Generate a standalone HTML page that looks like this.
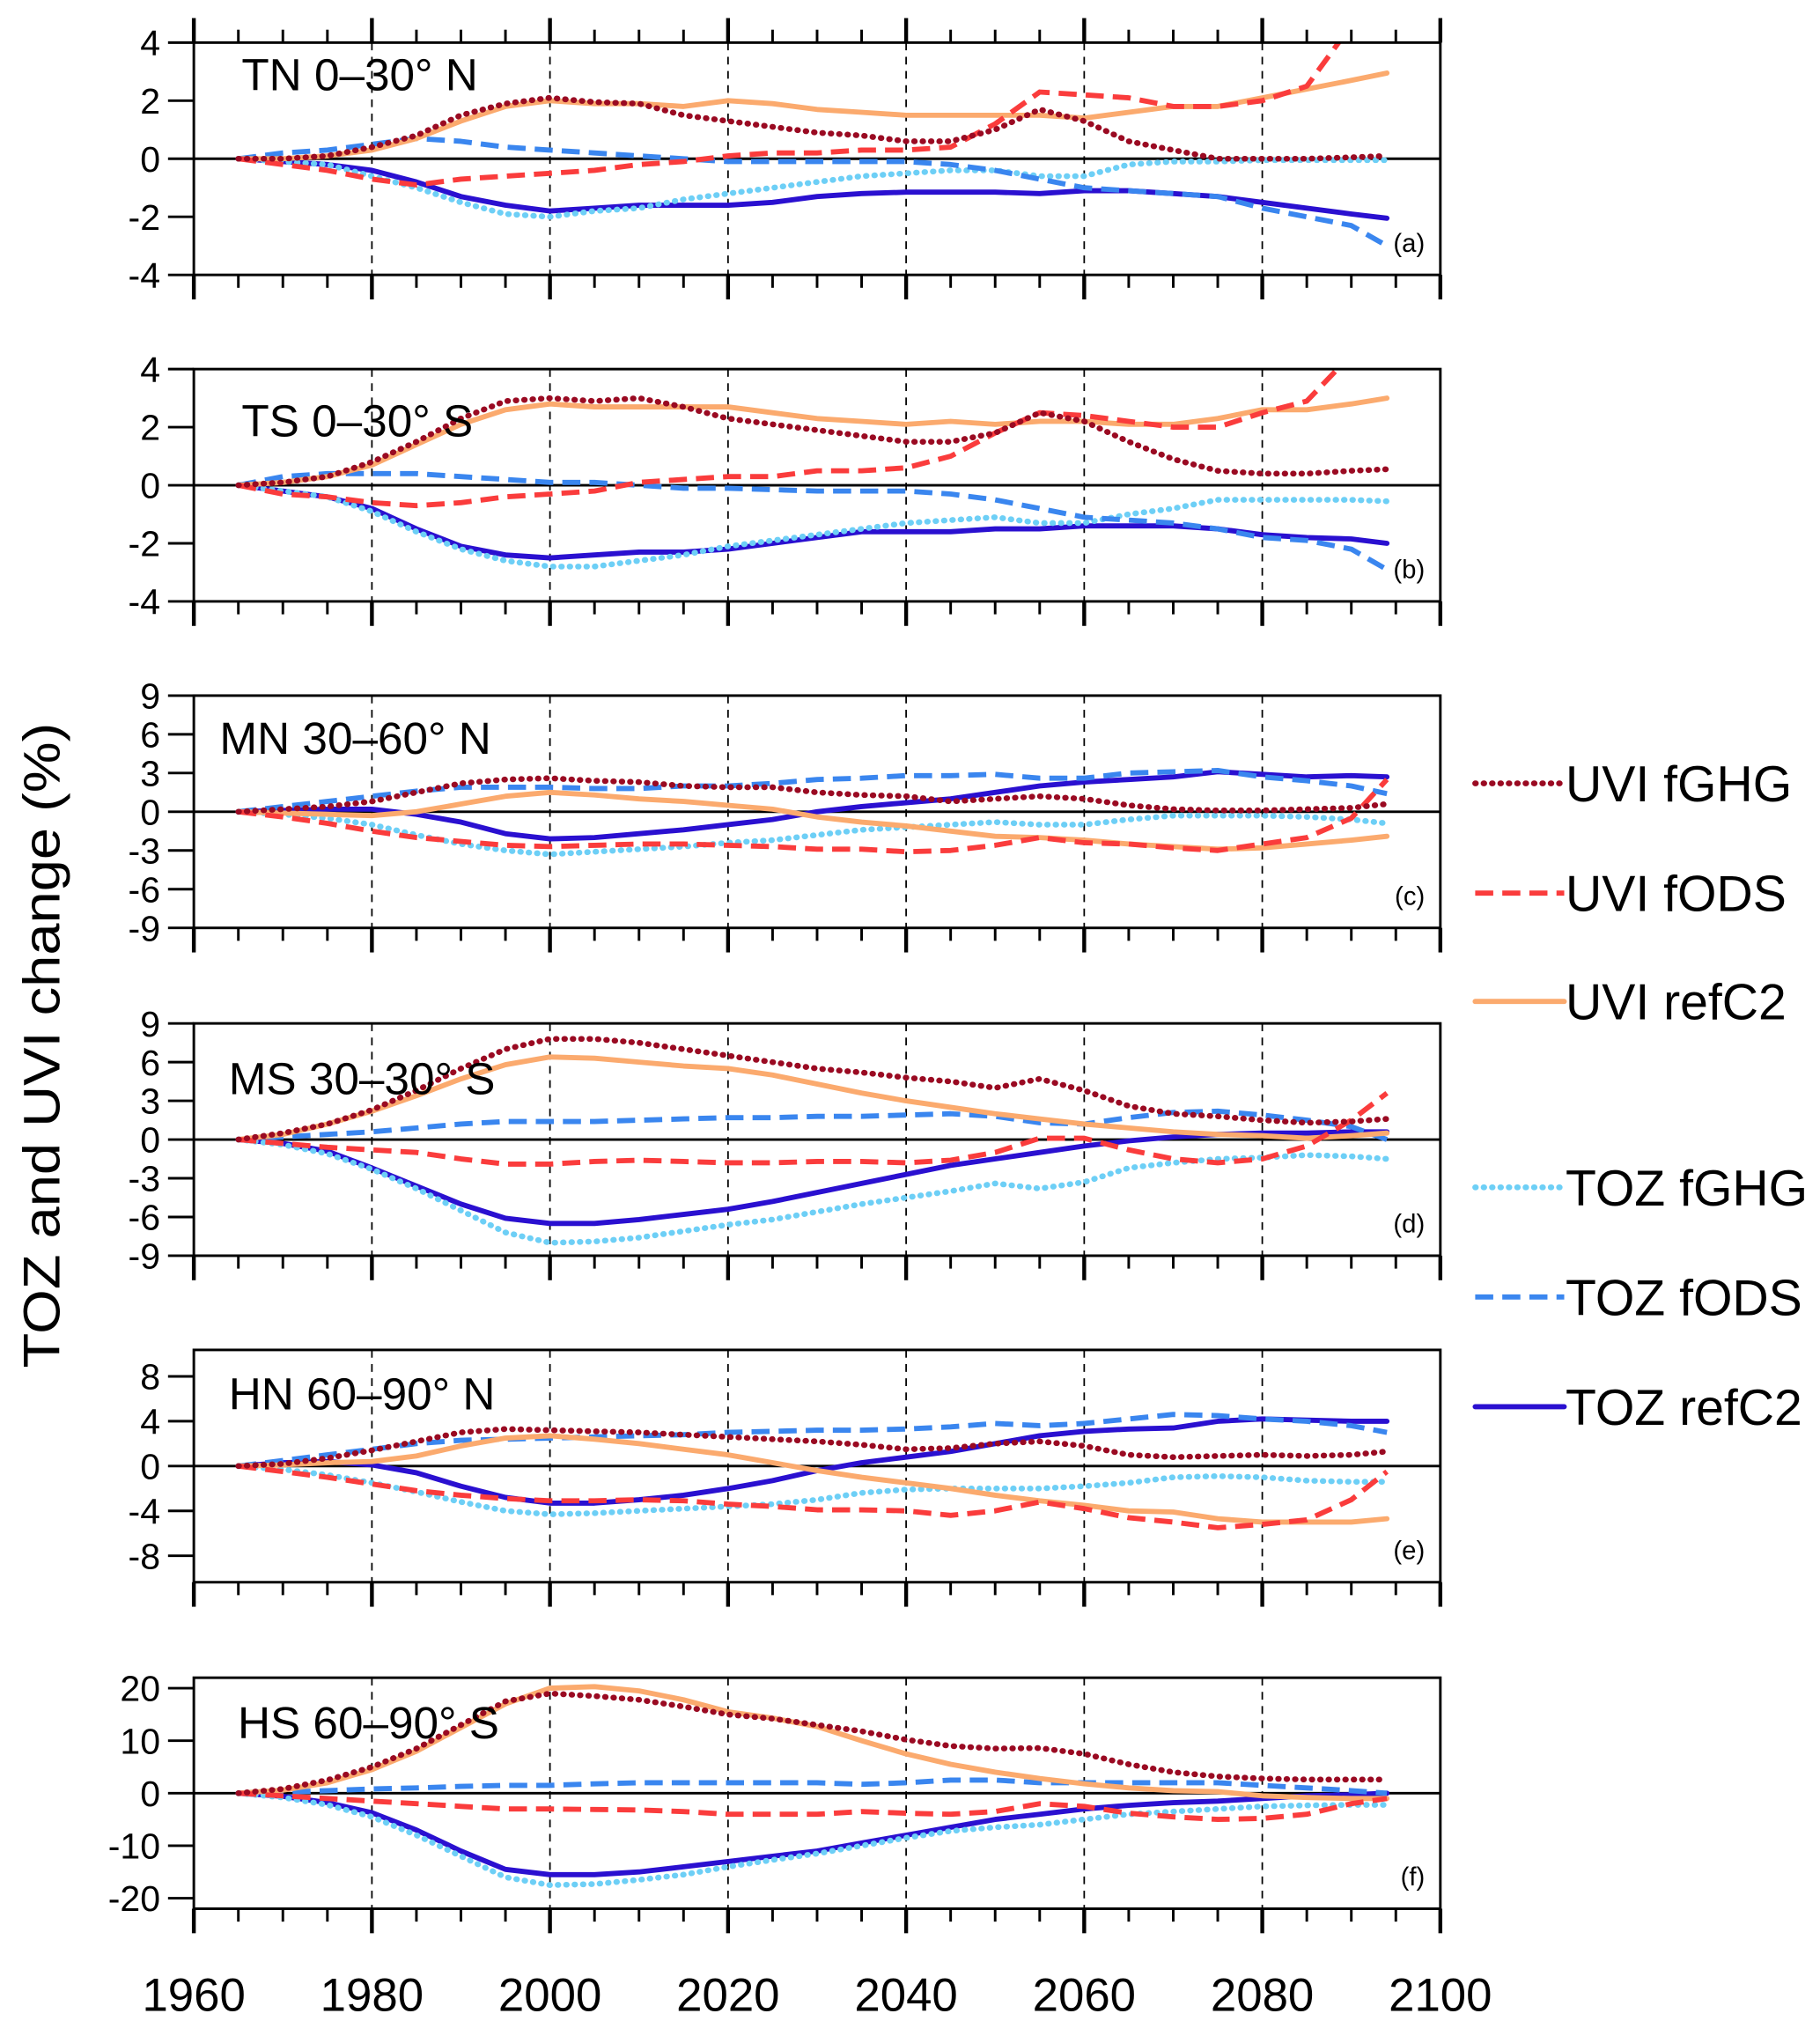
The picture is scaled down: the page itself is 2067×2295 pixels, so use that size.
<!DOCTYPE html>
<html><head><meta charset="utf-8"><style>
html,body{margin:0;padding:0;background:#fff}
svg{display:block;font-family:"Liberation Sans",Arial,sans-serif}
</style></head><body>
<svg id="chart" xmlns="http://www.w3.org/2000/svg" width="2067" height="2295" viewBox="0 0 1410 1566">
<rect width="1410" height="1566" fill="#fff"/>
<text transform="translate(46,810) rotate(-90)" text-anchor="middle" font-size="40" textLength="500" lengthAdjust="spacingAndGlyphs">TOZ and UVI change (%)</text>
<g id="legend"></g>
<g id="panels"></g>
</svg>
<script>
const years=[1965,1970,1975,1980,1985,1990,1995,2000,2005,2010,2015,2020,2025,2030,2035,2040,2045,2050,2055,2060,2065,2070,2075,2080,2085,2090,2094];
const seriesNames=["TOZ refC2","TOZ fGHG","TOZ fODS","UVI refC2","UVI fODS","UVI fGHG"];
const xTickLabels=[1960,1980,2000,2020,2040,2060,2080,2100];
// panel a TN
const aRefT=[0,-0.1,-0.2,-0.4,-0.8,-1.3,-1.6,-1.8,-1.7,-1.6,-1.6,-1.6,-1.5,-1.3,-1.2,-1.15,-1.15,-1.15,-1.2,-1.1,-1.1,-1.2,-1.3,-1.5,-1.7,-1.9,-2.05];
const aGhgT=[0,-0.1,-0.2,-0.6,-1.0,-1.5,-1.9,-2.0,-1.8,-1.7,-1.4,-1.2,-1.0,-0.8,-0.6,-0.5,-0.4,-0.4,-0.6,-0.6,-0.2,-0.1,-0.1,-0.05,-0.05,-0.05,-0.05];
const aOdsT=[0,0.2,0.3,0.5,0.7,0.6,0.4,0.3,0.2,0.1,0,-0.1,-0.1,-0.1,-0.1,-0.1,-0.2,-0.4,-0.7,-1.0,-1.1,-1.2,-1.3,-1.7,-2.0,-2.3,-3.0];
const aRefU=[0,0,0.1,0.3,0.7,1.3,1.8,2.0,1.9,1.9,1.8,2.0,1.9,1.7,1.6,1.5,1.5,1.5,1.5,1.4,1.6,1.8,1.8,2.1,2.4,2.7,2.95];
const aOdsU=[0,-0.2,-0.4,-0.7,-0.9,-0.7,-0.6,-0.5,-0.4,-0.2,-0.1,0.1,0.2,0.2,0.3,0.3,0.4,1.2,2.3,2.2,2.1,1.8,1.8,2.0,2.5,4.6,6.5];
const aGhgU=[0,0,0.1,0.4,0.8,1.5,1.9,2.1,1.95,1.9,1.5,1.3,1.1,0.9,0.8,0.6,0.6,1.0,1.7,1.3,0.6,0.3,0,0,0,0.05,0.1];
// panel b TS
const bRefT=[0,-0.2,-0.4,-0.8,-1.5,-2.1,-2.4,-2.5,-2.4,-2.3,-2.3,-2.2,-2.0,-1.8,-1.6,-1.6,-1.6,-1.5,-1.5,-1.4,-1.4,-1.4,-1.5,-1.7,-1.8,-1.85,-2.0];
const bGhgT=[0,-0.2,-0.4,-0.9,-1.6,-2.2,-2.6,-2.8,-2.8,-2.6,-2.4,-2.1,-1.9,-1.7,-1.5,-1.3,-1.2,-1.1,-1.3,-1.3,-1.0,-0.8,-0.5,-0.5,-0.5,-0.5,-0.55];
const bOdsT=[0,0.3,0.4,0.4,0.4,0.3,0.2,0.1,0.1,0,-0.1,-0.1,-0.15,-0.2,-0.2,-0.2,-0.3,-0.5,-0.8,-1.1,-1.2,-1.3,-1.5,-1.8,-1.9,-2.2,-2.9];
const bRefU=[0,0.1,0.3,0.7,1.4,2.1,2.6,2.8,2.7,2.7,2.7,2.7,2.5,2.3,2.2,2.1,2.2,2.1,2.2,2.2,2.1,2.1,2.3,2.6,2.6,2.8,3.0];
const bOdsU=[0,-0.3,-0.4,-0.6,-0.7,-0.6,-0.4,-0.3,-0.2,0.1,0.2,0.3,0.3,0.5,0.5,0.6,1.0,1.8,2.5,2.4,2.2,2.0,2.0,2.5,2.9,4.5,6.5];
const bGhgU=[0,0.1,0.3,0.8,1.5,2.3,2.9,3.0,2.9,3.0,2.7,2.3,2.1,1.9,1.7,1.5,1.5,1.8,2.5,2.2,1.5,0.9,0.5,0.4,0.4,0.5,0.55];
// panel c MN
const cRefT=[0,0.1,0.2,0.2,-0.2,-0.8,-1.7,-2.1,-2.0,-1.7,-1.4,-1.0,-0.6,0,0.4,0.7,1.0,1.5,2.0,2.3,2.5,2.7,3.1,2.9,2.7,2.8,2.7];
const cGhgT=[0,-0.2,-0.5,-1.0,-1.8,-2.5,-3.0,-3.3,-3.1,-2.9,-2.7,-2.4,-2.2,-1.8,-1.4,-1.2,-1.0,-0.8,-1.0,-1.0,-0.6,-0.3,-0.3,-0.3,-0.4,-0.6,-0.9];
const cOdsT=[0,0.4,0.8,1.2,1.6,1.9,1.9,1.9,1.8,1.8,2.0,2.0,2.2,2.5,2.6,2.8,2.8,2.9,2.6,2.6,3.0,3.1,3.2,2.7,2.4,2.0,1.4];
const cRefU=[0,-0.1,-0.2,-0.3,0,0.6,1.2,1.5,1.3,1.0,0.8,0.5,0.2,-0.4,-0.8,-1.1,-1.5,-1.9,-2.0,-2.2,-2.5,-2.7,-2.9,-2.8,-2.5,-2.2,-1.9];
const cOdsU=[0,-0.4,-0.9,-1.5,-2.0,-2.3,-2.6,-2.7,-2.6,-2.5,-2.5,-2.6,-2.7,-2.9,-2.9,-3.1,-3.0,-2.6,-2.0,-2.4,-2.5,-2.8,-3.0,-2.5,-2.0,-0.5,2.5];
const cGhgU=[0,0.2,0.4,0.8,1.5,2.2,2.5,2.6,2.4,2.3,2.0,1.9,1.9,1.5,1.3,1.2,0.8,1.0,1.2,1.0,0.5,0.2,0.1,0.1,0.2,0.3,0.6];
// panel d MS
const dRefT=[0,-0.3,-0.9,-2.2,-3.6,-5.0,-6.1,-6.5,-6.5,-6.2,-5.8,-5.4,-4.8,-4.1,-3.4,-2.7,-2.0,-1.5,-1.0,-0.5,-0.1,0.2,0.4,0.5,0.5,0.6,0.6];
const dGhgT=[0,-0.4,-1.1,-2.3,-3.8,-5.5,-7.2,-8.0,-7.9,-7.6,-7.1,-6.6,-6.2,-5.6,-5.0,-4.5,-4.0,-3.4,-3.8,-3.3,-2.2,-1.8,-1.5,-1.4,-1.2,-1.3,-1.5];
const dOdsT=[0,0.2,0.4,0.6,0.9,1.2,1.4,1.4,1.4,1.5,1.6,1.7,1.7,1.8,1.8,1.9,2.0,1.8,1.3,1.2,1.7,2.1,2.2,1.9,1.5,1.0,0];
const dRefU=[0,0.4,1.2,2.2,3.4,4.7,5.8,6.4,6.3,6.0,5.7,5.5,5.0,4.3,3.6,3.0,2.5,2.0,1.6,1.2,0.9,0.6,0.4,0.3,0.1,0.3,0.5];
const dOdsU=[0,-0.3,-0.6,-0.8,-1.0,-1.5,-1.9,-1.9,-1.7,-1.6,-1.7,-1.8,-1.8,-1.7,-1.7,-1.8,-1.6,-1.0,0.1,0.1,-0.8,-1.5,-1.8,-1.5,-0.5,1.5,3.6];
const dGhgU=[0,0.5,1.2,2.3,3.8,5.5,7.0,7.8,7.8,7.5,7.0,6.5,6.0,5.5,5.2,4.8,4.5,4.0,4.7,3.8,2.6,2.0,1.8,1.5,1.3,1.4,1.6];
// panel e HN
const eRefT=[0,0.3,0.4,0.1,-0.6,-1.8,-2.8,-3.3,-3.3,-3.0,-2.6,-2.0,-1.3,-0.4,0.3,0.8,1.3,2.0,2.7,3.1,3.3,3.4,4.0,4.2,4.1,4.0,4.0];
const eGhgT=[0,-0.3,-0.8,-1.5,-2.3,-3.2,-4.0,-4.3,-4.2,-4.0,-3.8,-3.6,-3.4,-3.0,-2.4,-2.1,-2.0,-2.0,-2.0,-1.8,-1.5,-1.0,-0.9,-1.0,-1.3,-1.4,-1.4];
const eOdsT=[0,0.5,1.0,1.5,2.0,2.3,2.4,2.5,2.6,2.7,2.8,3.0,3.1,3.2,3.2,3.3,3.5,3.8,3.6,3.8,4.2,4.6,4.5,4.2,4.0,3.6,3.0];
const eRefU=[0,0.1,0.3,0.4,0.9,1.8,2.5,2.7,2.4,2.0,1.5,1.0,0.3,-0.4,-1.0,-1.5,-2.0,-2.6,-3.1,-3.5,-4.0,-4.1,-4.7,-5.0,-5.0,-5.0,-4.7];
const eOdsU=[0,-0.5,-1.0,-1.6,-2.2,-2.6,-2.9,-3.1,-3.1,-3.0,-3.1,-3.4,-3.6,-3.9,-3.9,-4.0,-4.4,-4.0,-3.2,-3.8,-4.6,-5.0,-5.5,-5.2,-4.8,-3.0,-0.5];
const eGhgU=[0,0.2,0.7,1.4,2.2,3.0,3.3,3.2,3.1,3.0,2.8,2.6,2.4,2.2,1.9,1.5,1.6,2.0,2.2,1.8,1.0,0.8,0.9,1.0,0.9,1.0,1.3];
// panel f HS
const fRefT=[0,-0.6,-1.8,-3.7,-7,-11,-14.5,-15.5,-15.5,-15,-14,-13,-12,-11,-9.5,-8,-6.5,-5,-4,-3,-2.3,-1.8,-1.5,-1,-0.5,-0.3,0];
const fGhgT=[0,-0.8,-2.2,-4.5,-8,-12,-16,-17.5,-17.3,-16.5,-15.5,-14,-12.7,-11.5,-10,-8.5,-7.2,-6.5,-6,-5,-4,-3.5,-3,-2.5,-2.3,-2.2,-2.2];
const fOdsT=[0,0.2,0.5,0.8,1,1.3,1.5,1.5,1.8,2,2,2,2,2,1.7,2,2.5,2.5,2,2,2,2,2,1.5,1,0.5,0];
const fRefU=[0,0.6,2,4.5,8,12.5,17,20,20.3,19.5,17.8,15.5,14.3,12.7,10,7.5,5.5,4,2.8,1.8,1,0.5,0.3,-0.5,-0.8,-1,-1];
const fOdsU=[0,-0.5,-1,-1.5,-2,-2.5,-3,-3,-3.1,-3.2,-3.5,-4,-4,-4,-3.5,-3.8,-4,-3.5,-2,-2.5,-3.8,-4.5,-5,-4.8,-4,-2,-1];
const fGhgU=[0,0.8,2.5,5,8.5,13,17.5,19,18.5,17.8,16.5,15,14.2,13,11.8,10.2,9,8.5,8.6,7.5,5.5,4,3.2,2.8,2.6,2.6,2.6];
const aTicks=[4,2,0,-2,-4], bTicks=[4,2,0,-2,-4], cTicks=[9,6,3,0,-3,-6,-9], dTicks=[9,6,3,0,-3,-6,-9], eTicks=[8,4,0,-4,-8], fTicks=[20,10,0,-10,-20];

const styles=[
 {c:"#2a10d0",w:4,d:null,cap:"round"},
 {c:"#6dcff6",w:4.5,d:"0.5 6",cap:"round"},
 {c:"#3a86ef",w:4,d:"14 7",cap:"butt"},
 {c:"#fbaa6e",w:4,d:null,cap:"round"},
 {c:"#fa3c3c",w:4,d:"14 7",cap:"butt"},
 {c:"#9a0a22",w:4.5,d:"0.5 6",cap:"round"}
];
const panels=[
 {id:"a",title:"TN 0–30° N",tx:187,ty:68,top:33,bot:213,ymax:4,ymin:-4,ticks:aTicks,topTicks:true,data:[aRefT,aGhgT,aOdsT,aRefU,aOdsU,aGhgU]},
 {id:"b",title:"TS 0–30° S",tx:187,ty:336,top:286,bot:466,ymax:4,ymin:-4,ticks:bTicks,data:[bRefT,bGhgT,bOdsT,bRefU,bOdsU,bGhgU]},
 {id:"c",title:"MN 30–60° N",tx:170,ty:582,top:539,bot:719,ymax:9,ymin:-9,ticks:cTicks,data:[cRefT,cGhgT,cOdsT,cRefU,cOdsU,cGhgU]},
 {id:"d",title:"MS 30–30° S",tx:177,ty:846,top:793,bot:973,ymax:9,ymin:-9,ticks:dTicks,data:[dRefT,dGhgT,dOdsT,dRefU,dOdsU,dGhgU]},
 {id:"e",title:"HN 60–90° N",tx:177,ty:1090,top:1046,bot:1226,ymax:10.36,ymin:-10.36,ticks:eTicks,data:[eRefT,eGhgT,eOdsT,eRefU,eOdsU,eGhgU]},
 {id:"f",title:"HS 60–90° S",tx:184,ty:1345,top:1300,bot:1479,ymax:22,ymin:-22,ticks:fTicks,data:[fRefT,fGhgT,fOdsT,fRefU,fOdsU,fGhgU]}
];
const NS="http://www.w3.org/2000/svg";
const X0=150,X1=1116;
function xs(yr){return X0+(yr-1960)/140*(X1-X0);}
function mk(tag,attrs,parent){const e=document.createElementNS(NS,tag);for(const k in attrs)e.setAttribute(k,attrs[k]);parent.appendChild(e);return e;}
const root=document.getElementById("panels");
const defs=mk("defs",{},root);
panels.forEach(p=>{
  const ys=v=>p.top+(p.ymax-v)/(p.ymax-p.ymin)*(p.bot-p.top);
  const g=mk("g",{},root);
  
  
  const cp=mk("clipPath",{id:"clip"+p.id},defs);
  mk("rect",{x:X0,y:p.top,width:X1-X0,height:p.bot-p.top},cp);
  for(let yr=1980;yr<=2080;yr+=20){
    const l=mk("line",{x1:xs(yr),x2:xs(yr),y1:p.top,y2:p.bot,stroke:"#000","stroke-width":1.2,"stroke-dasharray":"6 5"},g);
    
    
  }
  const z=mk("line",{x1:X0,x2:X1,y1:ys(0),y2:ys(0),stroke:"#000","stroke-width":2},g);
  
  
  p.data.forEach((arr,i)=>{
    const s=styles[i];
    const d=arr.map((v,j)=>(j?"L":"M")+xs(years[j]).toFixed(1)+","+ys(v).toFixed(1)).join("");
    const a={d:d,fill:"none",stroke:s.c,"stroke-width":s.w,"stroke-linecap":s.cap,"stroke-linejoin":"round","clip-path":"url(#clip"+p.id+")"};
    if(s.d)a["stroke-dasharray"]=s.d;
    const path=mk("path",a,g);
    
    
  });
  const fr=mk("rect",{x:X0,y:p.top,width:X1-X0,height:p.bot-p.top,fill:"none",stroke:"#000","stroke-width":2},g);
  
  
  p.ticks.forEach(t=>{
    mk("line",{x1:X0-20,x2:X0,y1:ys(t),y2:ys(t),stroke:"#000","stroke-width":2},g);
    const tx=mk("text",{x:X0-26,y:ys(t)+10,"text-anchor":"end","font-size":28},g);
    tx.textContent=t;
    
    
  });
  for(let yr=1960;yr<=2100;yr+=5){
    const major=yr%20===0, len=major?19:10, w=major?3:2;
    mk("line",{x1:xs(yr),x2:xs(yr),y1:p.bot,y2:p.bot+len,stroke:"#000","stroke-width":w},g);
    if(p.topTicks) mk("line",{x1:xs(yr),x2:xs(yr),y1:p.top,y2:p.top-len,stroke:"#000","stroke-width":w},g);
  }
  const t=mk("text",{x:p.tx,y:p.ty+2,"font-size":35},g);
  t.textContent=p.title;
  
  
  const tag=mk("text",{x:1104,y:p.bot-18,"text-anchor":"end","font-size":20},g);
  tag.textContent="("+p.id+")";
  
  
});
xTickLabels.forEach(yr=>{
  const t=mk("text",{x:xs(yr),y:1558,"text-anchor":"middle","font-size":36},root);
  t.textContent=yr;
  
  
});
const lg=document.getElementById("legend");
const legendOrder=[5,4,3,1,2,0];
const legendY=[607,692,776,920,1005,1090];
legendOrder.forEach((si,k)=>{
  const s=styles[si],y=legendY[k];
  const g=mk("g",{},lg);
  
  
  const a={x1:1143,x2:1212,y1:y,y2:y,stroke:s.c,"stroke-width":s.w,"stroke-linecap":s.cap};
  if(s.d)a["stroke-dasharray"]=s.d;
  mk("line",a,g);
  const t=mk("text",{x:1213,y:y+14,"font-size":39},g);
  t.textContent=seriesNames[si];
});
</script>
</body></html>
